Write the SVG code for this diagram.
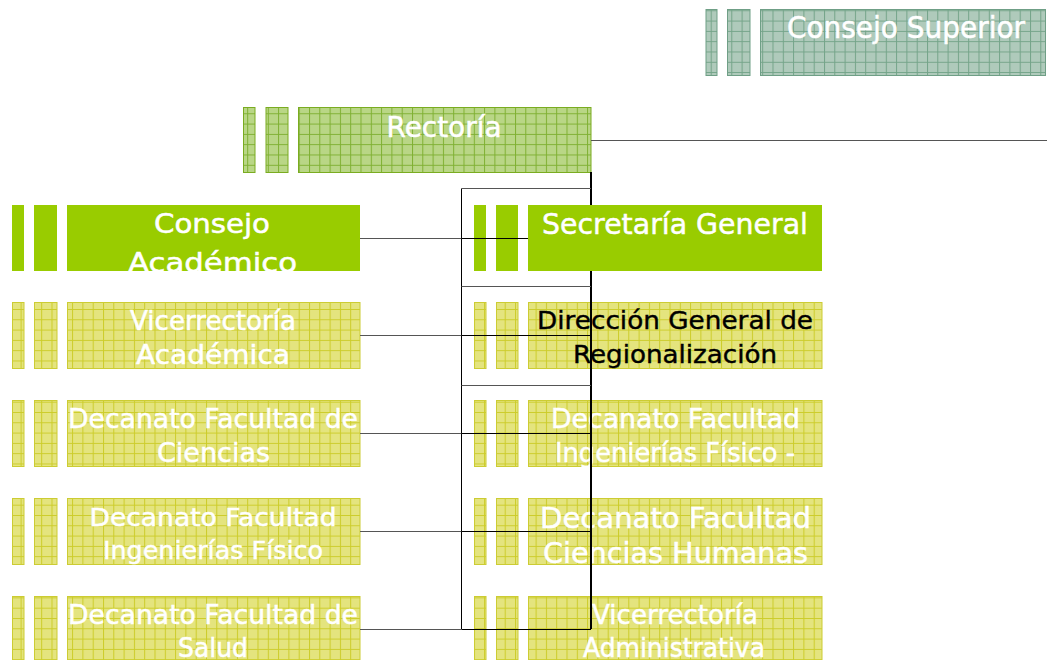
<svg xmlns="http://www.w3.org/2000/svg" width="1047" height="660" viewBox="0 0 1047 660">
<style>
  .t { font-family: "DejaVu Sans", "Liberation Sans", sans-serif; fill: #ffffff; stroke: #ffffff; stroke-width: 0.5; text-anchor: middle; }
  .dk { fill: #000000; stroke: #000000; stroke-width: 0.4; }
  .py { fill: url(#pY); stroke: #cccc33; stroke-width: 1; }
  .pr { fill: url(#pR); stroke: #7aac20; stroke-width: 1; }
  .ps { fill: url(#pS); stroke: #6f9f86; stroke-width: 1; }
  .sg { fill: #99cc00; }
  .ln { fill: none; stroke: #000; stroke-width: 1; }
  .lg { fill: none; stroke: #555; stroke-width: 1; }
  .lt { fill: none; stroke: #000; stroke-width: 2; }
</style>
<defs>
  <pattern id="pY" width="10.3" height="10.3" patternUnits="userSpaceOnUse">
    <rect width="10.3" height="10.3" fill="#e4e47e"/>
    <path d="M0 0.5H10.3M0.5 0V10.3" stroke="#cccc2a" stroke-width="1"/>
  </pattern>
  <pattern id="pR" width="10.3" height="10.3" patternUnits="userSpaceOnUse">
    <rect width="10.3" height="10.3" fill="#b9d686"/>
    <path d="M0 0.5H10.3M0.5 0V10.3" stroke="#7fb032" stroke-width="1"/>
  </pattern>
  <pattern id="pS" width="10.3" height="10.3" patternUnits="userSpaceOnUse">
    <rect width="10.3" height="10.3" fill="#afcabb"/>
    <path d="M0 0.5H10.3M0.5 0V10.3" stroke="#74a489" stroke-width="1"/>
  </pattern>
  <clipPath id="cA"><rect x="67" y="205" width="293" height="66"/></clipPath>
</defs>

<g id="consejo-superior">
  <rect class="ps" x="706" y="9.5" width="11" height="66"/>
  <rect class="ps" x="727.5" y="9.5" width="22.5" height="66"/>
  <rect class="ps" x="760.5" y="9.5" width="285" height="66"/>
  <text class="t" x="906" y="38" font-size="29.5" textLength="238" lengthAdjust="spacingAndGlyphs">Consejo Superior</text>
</g>

<g id="rectoria">
  <rect class="pr" x="243.5" y="107.5" width="11.5" height="65"/>
  <rect class="pr" x="266" y="107.5" width="22" height="65"/>
  <rect class="pr" x="298.5" y="107.5" width="292.5" height="65"/>
  <text class="t" x="444" y="136.5" font-size="27.5" textLength="115" lengthAdjust="spacingAndGlyphs">Rectoría</text>
</g>

<g id="consejo-academico">
  <rect class="sg" x="12" y="205" width="12" height="66"/>
  <rect class="sg" x="34" y="205" width="23" height="66"/>
  <rect class="sg" x="67" y="205" width="293" height="66"/>
  <g clip-path="url(#cA)">
    <text class="t" x="212" y="233" font-size="26" textLength="116" lengthAdjust="spacingAndGlyphs">Consejo</text>
    <text class="t" x="212.5" y="272" font-size="26" textLength="169" lengthAdjust="spacingAndGlyphs">Académico</text>
  </g>
</g>

<g id="secretaria-general">
  <rect class="sg" x="474" y="205" width="12" height="66"/>
  <rect class="sg" x="496" y="205" width="22" height="66"/>
  <rect class="sg" x="528" y="205" width="294" height="66"/>
  <text class="t" x="675" y="234" font-size="29" textLength="266" lengthAdjust="spacingAndGlyphs">Secretaría General</text>
</g>

<g id="vicerrectoria-academica">
  <rect class="py" x="12.5" y="302.5" width="11.5" height="66"/>
  <rect class="py" x="34.5" y="302.5" width="22.5" height="66"/>
  <rect class="py" x="67.5" y="302.5" width="292.5" height="66"/>
  <text class="t" x="213" y="330" font-size="26" textLength="166" lengthAdjust="spacingAndGlyphs">Vicerrectoría</text>
  <text class="t" x="213" y="364" font-size="26" textLength="154" lengthAdjust="spacingAndGlyphs">Académica</text>
</g>

<g id="direccion-regionalizacion">
  <rect class="py" x="474.5" y="302.5" width="11.5" height="66"/>
  <rect class="py" x="496.5" y="302.5" width="21.5" height="66"/>
  <rect class="py" x="528.5" y="302.5" width="293.5" height="66"/>
  <text class="t dk" x="675" y="329" font-size="24.5" textLength="276" lengthAdjust="spacingAndGlyphs">Dirección General de</text>
  <text class="t dk" x="675" y="363" font-size="24.5" textLength="204" lengthAdjust="spacingAndGlyphs">Regionalización</text>
</g>

<g id="decanato-ciencias">
  <rect class="py" x="12.5" y="400.5" width="11.5" height="66"/>
  <rect class="py" x="34.5" y="400.5" width="22.5" height="66"/>
  <rect class="py" x="67.5" y="400.5" width="292.5" height="66"/>
  <text class="t" x="213" y="428" font-size="27" textLength="290" lengthAdjust="spacingAndGlyphs">Decanato Facultad de</text>
  <text class="t" x="213.5" y="462" font-size="27" textLength="113" lengthAdjust="spacingAndGlyphs">Ciencias</text>
</g>

<g id="decanato-ingenierias-derecha">
  <rect class="py" x="474.5" y="400.5" width="11.5" height="66"/>
  <rect class="py" x="496.5" y="400.5" width="21.5" height="66"/>
  <rect class="py" x="528.5" y="400.5" width="293.5" height="66"/>
  <text class="t" x="675.5" y="428" font-size="26" textLength="249" lengthAdjust="spacingAndGlyphs">Decanato Facultad</text>
  <text class="t" x="675" y="462" font-size="26" textLength="240" lengthAdjust="spacingAndGlyphs">Ingenierías Físico -</text>
</g>

<g id="decanato-ingenierias-izquierda">
  <rect class="py" x="12.5" y="498.5" width="11.5" height="66"/>
  <rect class="py" x="34.5" y="498.5" width="22.5" height="66"/>
  <rect class="py" x="67.5" y="498.5" width="292.5" height="66"/>
  <text class="t" x="213" y="526" font-size="25" textLength="247" lengthAdjust="spacingAndGlyphs">Decanato Facultad</text>
  <text class="t" x="213" y="559" font-size="25" textLength="220" lengthAdjust="spacingAndGlyphs">Ingenierías Físico</text>
</g>

<g id="decanato-ciencias-humanas">
  <rect class="py" x="474.5" y="498.5" width="11.5" height="66"/>
  <rect class="py" x="496.5" y="498.5" width="21.5" height="66"/>
  <rect class="py" x="528.5" y="498.5" width="293.5" height="66"/>
  <text class="t" x="675.5" y="528" font-size="28" textLength="271" lengthAdjust="spacingAndGlyphs">Decanato Facultad</text>
  <text class="t" x="675.5" y="563" font-size="28" textLength="265" lengthAdjust="spacingAndGlyphs">Ciencias Humanas</text>
</g>

<g id="decanato-salud">
  <rect class="py" x="12.5" y="596.5" width="11.5" height="66"/>
  <rect class="py" x="34.5" y="596.5" width="22.5" height="66"/>
  <rect class="py" x="67.5" y="596.5" width="292.5" height="66"/>
  <text class="t" x="213" y="624" font-size="27" textLength="290" lengthAdjust="spacingAndGlyphs">Decanato Facultad de</text>
  <text class="t" x="213" y="657" font-size="27" textLength="70" lengthAdjust="spacingAndGlyphs">Salud</text>
</g>

<g id="vicerrectoria-administrativa">
  <rect class="py" x="474.5" y="596.5" width="11.5" height="66"/>
  <rect class="py" x="496.5" y="596.5" width="21.5" height="66"/>
  <rect class="py" x="528.5" y="596.5" width="293.5" height="66"/>
  <text class="t" x="675" y="624" font-size="27" textLength="166" lengthAdjust="spacingAndGlyphs">Vicerrectoría</text>
  <text class="t" x="674" y="657" font-size="27" textLength="182" lengthAdjust="spacingAndGlyphs">Administrativa</text>
</g>

<g id="connectors">
  <path class="lg" d="M591 140.5H1047"/>
  <path class="lt" d="M591 172V205M591 271V629"/>
  <path class="ln" d="M461.5 188.5V629"/>
  <path class="lg" d="M461.5 188.5H591M461.5 286.5H591M461.5 385.5H591"/>
  <path class="lg" d="M360 238.5H461.5M360 335.5H461.5M360 433.5H461.5M360 531.5H461.5M360 629.5H461.5"/>
  <path class="ln" d="M461.5 238.5H528M461.5 335.5H591M461.5 433.5H591M461.5 531.5H591M461.5 629.5H591"/>
</g>
</svg>
